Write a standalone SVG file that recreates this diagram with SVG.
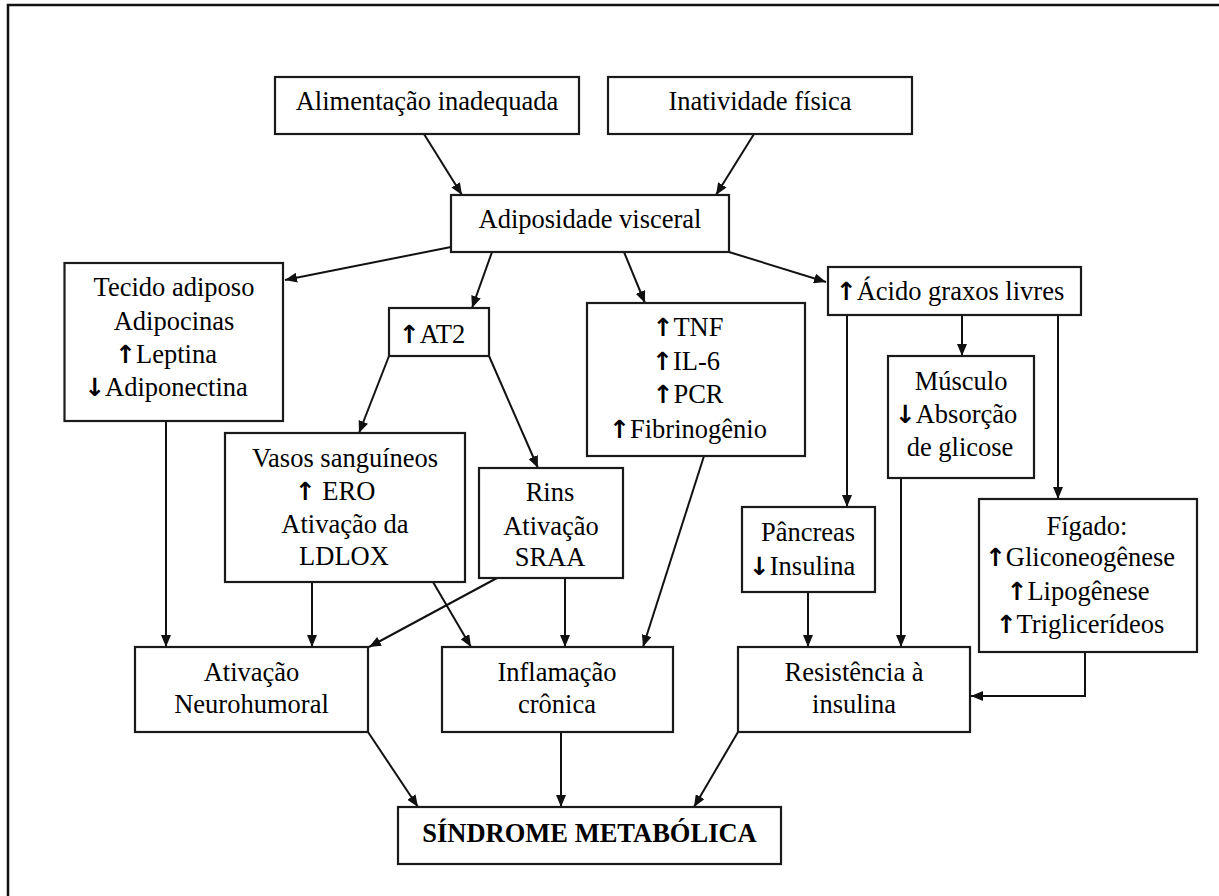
<svg xmlns="http://www.w3.org/2000/svg" width="1219" height="896" viewBox="0 0 1219 896">
<style>
.box{fill:#fff;stroke:#1a1a1a;stroke-width:2.2}
.t{font-family:"Liberation Serif","Times New Roman",serif;font-size:26.5px;fill:#000;text-anchor:middle}
.b{font-weight:bold}
.ar{font-family:"DejaVu Sans",sans-serif;font-size:25px;font-weight:bold}
.c{fill:none;stroke:#111;stroke-width:2}
.frame{fill:none;stroke:#111;stroke-width:2.5}
</style>
<defs>
<marker id="ah" viewBox="0 0 12 10" refX="12" refY="5" markerWidth="12" markerHeight="10" markerUnits="userSpaceOnUse" orient="auto">
<path d="M0,0 L12,5 L0,10 Z" fill="#111"/>
</marker>
</defs>
<path class="frame" d="M8,896 L8,5 L1219,5"/>
<g id="connectors">
<line class="c" x1="424" y1="134" x2="462" y2="195" marker-end="url(#ah)"/>
<line class="c" x1="754" y1="134" x2="716" y2="195" marker-end="url(#ah)"/>
<line class="c" x1="451" y1="247" x2="285" y2="280" marker-end="url(#ah)"/>
<line class="c" x1="492" y1="252" x2="472" y2="308" marker-end="url(#ah)"/>
<line class="c" x1="624" y1="252" x2="645" y2="303" marker-end="url(#ah)"/>
<line class="c" x1="729" y1="252" x2="826" y2="282" marker-end="url(#ah)"/>
<line class="c" x1="847" y1="315" x2="847" y2="507" marker-end="url(#ah)"/>
<line class="c" x1="962" y1="315" x2="962" y2="356" marker-end="url(#ah)"/>
<line class="c" x1="1058" y1="315" x2="1058" y2="499" marker-end="url(#ah)"/>
<line class="c" x1="389" y1="356" x2="359" y2="433" marker-end="url(#ah)"/>
<line class="c" x1="489" y1="356" x2="538" y2="468" marker-end="url(#ah)"/>
<line class="c" x1="166" y1="421" x2="166" y2="647" marker-end="url(#ah)"/>
<line class="c" x1="312" y1="582" x2="312" y2="647" marker-end="url(#ah)"/>
<line class="c" x1="433" y1="582" x2="471" y2="647" marker-end="url(#ah)"/>
<line class="c" x1="497" y1="578" x2="369" y2="647" marker-end="url(#ah)"/>
<line class="c" x1="565" y1="578" x2="565" y2="647" marker-end="url(#ah)"/>
<line class="c" x1="704" y1="456" x2="643" y2="647" marker-end="url(#ah)"/>
<line class="c" x1="808" y1="592" x2="808" y2="647" marker-end="url(#ah)"/>
<line class="c" x1="901" y1="478" x2="901" y2="647" marker-end="url(#ah)"/>
<polyline class="c" points="1085,652 1085,696 971,696" marker-end="url(#ah)"/>
<line class="c" x1="368" y1="732" x2="418" y2="807" marker-end="url(#ah)"/>
<line class="c" x1="561" y1="732" x2="561" y2="807" marker-end="url(#ah)"/>
<line class="c" x1="738" y1="732" x2="694" y2="807" marker-end="url(#ah)"/>
</g>
<g id="alimentacao"><rect class="box" x="275" y="77" width="304" height="57"/><text class="t" x="427" y="110">Alimentação inadequada</text></g>
<g id="inatividade"><rect class="box" x="608" y="77" width="304" height="57"/><text class="t" x="760" y="110">Inatividade física</text></g>
<g id="adiposidade"><rect class="box" x="451" y="195" width="278" height="57"/><text class="t" x="590" y="228">Adiposidade visceral</text></g>
<g id="tecido"><rect class="box" x="64.5" y="263" width="218.5" height="158"/>
<text class="t" x="174" y="296">Tecido adiposo</text>
<text class="t" x="174" y="330">Adipocinas</text>
<text class="t" x="166" y="363"><tspan class="ar">↑</tspan>Leptina</text>
<text class="t" x="166" y="396"><tspan class="ar">↓</tspan>Adiponectina</text></g>
<g id="at2"><rect class="box" x="389" y="308" width="100" height="48"/><text class="t" x="432" y="343"><tspan class="ar">↑</tspan>AT2</text></g>
<g id="tnf"><rect class="box" x="587" y="303" width="218" height="153"/>
<text class="t" x="688" y="336"><tspan class="ar">↑</tspan>TNF</text>
<text class="t" x="686" y="370"><tspan class="ar">↑</tspan>IL-6</text>
<text class="t" x="688" y="403"><tspan class="ar">↑</tspan>PCR</text>
<text class="t" x="688" y="438"><tspan class="ar">↑</tspan>Fibrinogênio</text></g>
<g id="acido"><rect class="box" x="828" y="267" width="253" height="48"/><text class="t" x="950" y="300"><tspan class="ar">↑</tspan>Ácido graxos livres</text></g>
<g id="musculo"><rect class="box" x="888" y="356" width="146" height="122"/>
<text class="t" x="961" y="390">Músculo</text>
<text class="t" x="956" y="423"><tspan class="ar">↓</tspan>Absorção</text>
<text class="t" x="960" y="456">de glicose</text></g>
<g id="vasos"><rect class="box" x="225" y="433" width="240" height="149"/>
<text class="t" x="345" y="467">Vasos sanguíneos</text>
<text class="t" x="335" y="500"><tspan class="ar">↑</tspan> ERO</text>
<text class="t" x="345" y="533">Ativação da</text>
<text class="t" x="344" y="565">LDLOX</text></g>
<g id="rins"><rect class="box" x="479" y="468" width="144" height="110"/>
<text class="t" x="550" y="501">Rins</text>
<text class="t" x="551" y="535">Ativação</text>
<text class="t" x="550" y="566">SRAA</text></g>
<g id="pancreas"><rect class="box" x="742" y="507" width="133" height="85"/>
<text class="t" x="808" y="541">Pâncreas</text>
<text class="t" x="802" y="575"><tspan class="ar">↓</tspan>Insulina</text></g>
<g id="figado"><rect class="box" x="979" y="499" width="218" height="153"/>
<text class="t" x="1087" y="535">Fígado:</text>
<text class="t" x="1080" y="566"><tspan class="ar">↑</tspan>Gliconeogênese</text>
<text class="t" x="1078" y="600"><tspan class="ar">↑</tspan>Lipogênese</text>
<text class="t" x="1080" y="633"><tspan class="ar">↑</tspan>Triglicerídeos</text></g>
<g id="neurohumoral"><rect class="box" x="135" y="647" width="233" height="85"/>
<text class="t" x="251.5" y="681">Ativação</text>
<text class="t" x="251.5" y="713">Neurohumoral</text></g>
<g id="inflamacao"><rect class="box" x="442" y="647" width="231" height="85"/>
<text class="t" x="557" y="681">Inflamação</text>
<text class="t" x="557" y="713">crônica</text></g>
<g id="resistencia"><rect class="box" x="738" y="647" width="232" height="85"/>
<text class="t" x="854" y="681">Resistência à</text>
<text class="t" x="854" y="713">insulina</text></g>
<g id="sindrome"><rect class="box" x="398" y="807" width="383" height="57"/>
<text class="t b" x="589.5" y="842">SÍNDROME METABÓLICA</text></g>
</svg>
